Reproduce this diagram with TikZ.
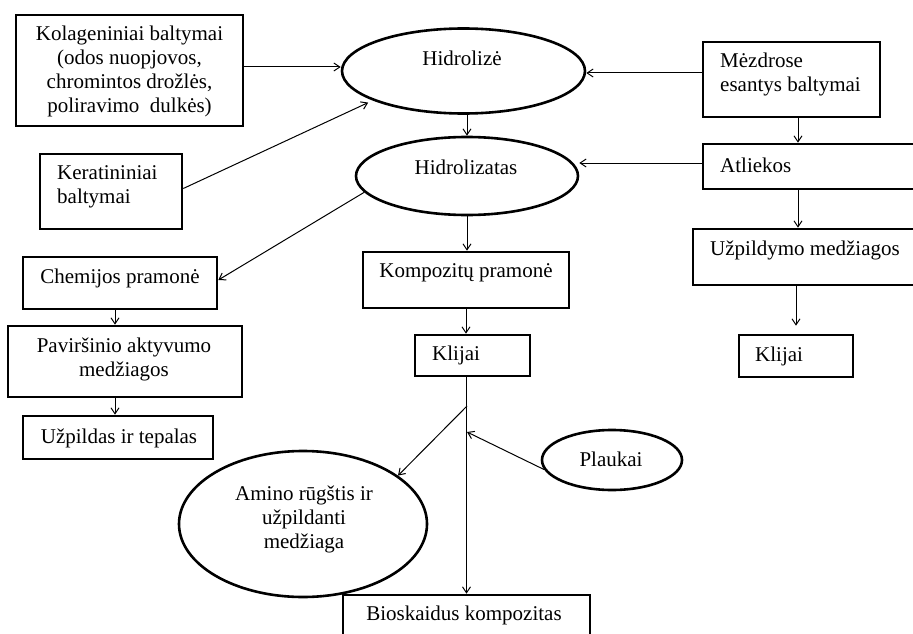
\documentclass[tikz,border=0pt]{standalone}
\usepackage{fontspec}
\setmainfont{Liberation Serif}
\usetikzlibrary{arrows.meta,shapes.geometric}
\tikzset{
  box/.style={draw, line width=2.6pt, rectangle, inner sep=0pt},
  oval/.style={draw, line width=2.6pt, ellipse, inner sep=0pt},
  txt/.style={inner sep=0pt, font=\fontsize{21}{24}\selectfont, text=black},
  arr/.style={line width=1pt, -{Straight Barb[length=6pt,width=8pt]}},
  ln/.style={line width=1pt}
}
\begin{document}
\begin{tikzpicture}[x=1pt,y=-1pt]
\clip (0,0) rectangle (913,634);
\fill[white] (0,0) rectangle (913,634);
% boxes: center, width, height
\node[box, minimum width=227, minimum height=111] (kol) at (129.5,70.5) {};
\node[box, minimum width=142, minimum height=75] (ker) at (111,191.5) {};
\node[box, minimum width=177, minimum height=75] (mez) at (791.5,79.5) {};
\node[box, minimum width=227, minimum height=45] (atl) at (816.5,166.5) {};
\node[box, minimum width=237, minimum height=56] (uzp) at (811.5,257) {};
\node[box, minimum width=114, minimum height=42] (klr) at (796,356) {};
\node[box, minimum width=194, minimum height=52] (chem) at (120,283) {};
\node[box, minimum width=234, minimum height=71] (pav) at (125,361.5) {};
\node[box, minimum width=190, minimum height=43] (uzpt) at (118,437.5) {};
\node[box, minimum width=206, minimum height=56] (komp) at (466,280) {};
\node[box, minimum width=115, minimum height=41] (klc) at (472.5,355.5) {};
\node[box, minimum width=247, minimum height=60] (bio) at (466.5,625) {};
% ellipses
\node[oval, minimum width=243, minimum height=85] (hyd) at (463.5,71) {};
\node[oval, minimum width=222, minimum height=78] (hzt) at (467,176) {};
\node[oval, minimum width=248, minimum height=146] (amino) at (303,524) {};
\node[oval, minimum width=140, minimum height=60] (plk) at (612,460) {};
% texts
\node[txt, align=center] (kolt) at (129.5,71) {Kolageniniai baltymai\\(odos nuopjovos,\\chromintos drožlės,\\poliravimo\ \ dulkės)};
\node[txt, align=left, anchor=west] (kert) at (57,187) {Keratininiai\\baltymai};
\node[txt, align=left, anchor=west] (mezt) at (720,74) {Mėzdrose\\esantys baltymai};
\node[txt, anchor=west] (atlt) at (720,165) {Atliekos};
\node[txt] (uzpt2) at (805,250) {Užpildymo medžiagos};
\node[txt, anchor=west] (klrt) at (755,356) {Klijai};
\node[txt] (chemt) at (120,278) {Chemijos pramonė};
\node[txt, align=center] (pavt) at (124,359) {Paviršinio aktyvumo\\medžiagos};
\node[txt] (uzptt) at (119,438) {Užpildas ir tepalas};
\node[txt] (kompt) at (466,273) {Kompozitų pramonė};
\node[txt, anchor=west] (klct) at (432,355) {Klijai};
\node[txt] (biot) at (464,615) {Bioskaidus kompozitas};
\node[txt] (hydt) at (462,58) {Hidrolizė};
\node[txt] (hztt) at (466,167) {Hidrolizatas};
\node[txt, align=center] (aminot) at (304,519) {Amino rūgštis ir\\užpildanti\\medžiaga};
\node[txt] (plkt) at (611,459) {Plaukai};
% connectors
\draw[arr] ([yshift=3.5pt]kol.east) -- ([yshift=3.5pt]kol.east -| hyd.west);
\draw[arr, shorten >=5pt] ([yshift=3pt]ker.east) -- (hyd.198);
\draw[arr] ([yshift=6.5pt]mez.west) -- ([yshift=6.5pt]mez.west -| hyd.east);
\draw[arr] (hyd.south -| hzt.north) -- (hzt.north);
\draw[arr] ([xshift=6.5pt]mez.south) -- ([xshift=6.5pt]mez.south |- atl.north);
\draw[arr] ([yshift=3.5pt]atl.west) -- ([yshift=3.5pt]atl.west -| hzt.east);
\draw[arr] ([xshift=-18.5pt]atl.south) -- ([xshift=-18.5pt]atl.south |- uzp.north);
\draw[arr, shorten >=8pt] (uzp.south -| klr.north) -- (klr.north);
\draw[arr] (hzt.189) -- ([yshift=3pt]chem.east);
\draw[arr] ([xshift=-5pt]chem.south) -- ([xshift=-5pt]chem.south |- pav.north);
\draw[arr] ([xshift=-10pt]pav.south) -- ([xshift=-10pt]pav.south |- uzpt.north);
\draw[arr] (hzt.south) -- (hzt.south |- komp.north);
\draw[arr] (komp.south) -- (komp.south |- klc.north);
\draw[arr] (bio.north |- klc.south) -- (bio.north);
\coordinate (br) at (467,406);
\coordinate (pj) at (467,432);
\draw[arr] (br) -- (amino.27);
\draw[arr] (plk.188) -- (pj);
\end{tikzpicture}
\end{document}
